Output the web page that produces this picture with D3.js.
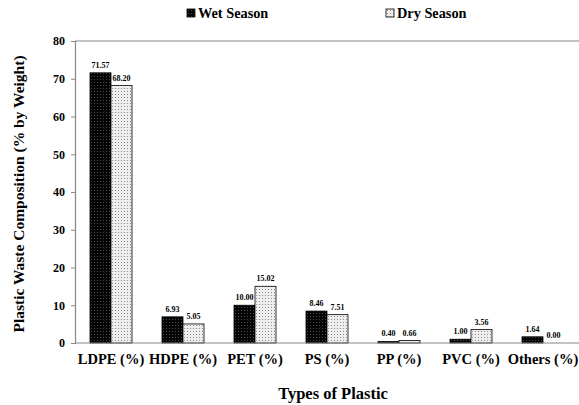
<!DOCTYPE html>
<html>
<head>
<meta charset="utf-8">
<script src="https://cdn.jsdelivr.net/npm/d3@7"></script>
<style>
  html, body { margin: 0; padding: 0; background: #fff; }
  svg text { font-family: "Liberation Serif", "Times New Roman", serif; font-weight: bold; fill: #000; }
</style>
</head>
<body>
<svg id="chart" width="579" height="405"></svg>
<script>
// Plastic waste composition by type, wet vs dry season
const categories = ["LDPE (%)", "HDPE (%)", "PET (%)", "PS (%)", "PP (%)", "PVC (%)", "Others (%)"];
const seriesNames = ["Wet Season", "Dry Season"];
const wetValues = [71.57, 6.93, 10.00, 8.46, 0.40, 1.00, 1.64];
const dryValues = [68.20, 5.05, 15.02, 7.51, 0.66, 3.56, 0.00];
const yTicks = [0, 10, 20, 30, 40, 50, 60, 70, 80];

const svg = d3.select("#chart");
const plotLeft = 75, plotRight = 579, plotTop = 41, plotBottom = 343;

// Fill patterns: dark dotted for wet season, light dotted for dry season
const defs = svg.append("defs");
const pWet = defs.append("pattern").attr("id", "pWet").attr("patternUnits", "userSpaceOnUse")
  .attr("width", 3).attr("height", 3);
pWet.append("rect").attr("width", 3).attr("height", 3).attr("fill", "#050505");
pWet.append("rect").attr("x", 1).attr("y", 1).attr("width", 1).attr("height", 1).attr("fill", "#4a4a4a");
const pDry = defs.append("pattern").attr("id", "pDry").attr("patternUnits", "userSpaceOnUse")
  .attr("width", 3).attr("height", 3);
pDry.append("rect").attr("width", 3).attr("height", 3).attr("fill", "#eeeeee");
pDry.append("rect").attr("x", 1).attr("y", 1).attr("width", 1).attr("height", 1).attr("fill", "#8a8a8a");
const fills = ["url(#pWet)", "url(#pDry)"];

const x = d3.scaleBand().domain(categories).range([plotLeft, plotRight]).paddingInner(0).paddingOuter(0);
const xSub = d3.scaleBand().domain(seriesNames).range([x.bandwidth() / 2 - 21, x.bandwidth() / 2 + 21]);
const y = d3.scaleLinear().domain([0, 80]).range([plotBottom, plotTop]);

// Top border of the plot area
svg.append("line").attr("x1", plotLeft).attr("x2", plotRight).attr("y1", plotTop).attr("y2", plotTop)
  .attr("stroke", "#888").attr("stroke-width", 1.2);

// Y axis
const yAxis = svg.append("g").attr("transform", `translate(${plotLeft},0)`)
  .call(d3.axisLeft(y).tickValues(yTicks).tickSize(4).tickPadding(6).tickFormat(d3.format("d")));
yAxis.select(".domain").attr("stroke", "#888").attr("stroke-width", 1.2);
yAxis.selectAll(".tick line").attr("stroke", "#888");
yAxis.selectAll(".tick text").style("font-size", "12px");

// Bars
const rows = categories.map((c, i) => ({ cat: c, vals: [wetValues[i], dryValues[i]] }));
const groups = svg.append("g").selectAll("g").data(rows).join("g")
  .attr("transform", d => `translate(${x(d.cat)},0)`);
groups.selectAll("rect").data(d => d.vals.map((v, j) => ({ v, s: seriesNames[j], j })))
  .join("rect")
  .attr("x", d => xSub(d.s))
  .attr("width", xSub.bandwidth())
  .attr("y", d => y(d.v))
  .attr("height", d => y(0) - y(d.v))
  .attr("fill", d => fills[d.j])
  .attr("stroke", "#000")
  .attr("stroke-width", d => d.v > 0 ? 0.8 : 0);

// Value labels
groups.selectAll("text").data(d => d.vals.map((v, j) => ({ v, s: seriesNames[j], j })))
  .join("text")
  .attr("x", d => xSub(d.s) + xSub.bandwidth() / 2)
  .attr("y", d => y(d.v) - 5)
  .attr("text-anchor", "middle")
  .style("font-size", "8px")
  .text(d => d3.format(".2f")(d.v));

// X axis line
svg.append("line").attr("x1", plotLeft).attr("x2", plotRight).attr("y1", plotBottom).attr("y2", plotBottom)
  .attr("stroke", "#888").attr("stroke-width", 1.2);

// Category labels
svg.append("g").selectAll("text").data(categories).join("text")
  .attr("x", d => x(d) + x.bandwidth() / 2)
  .attr("y", 364)
  .attr("text-anchor", "middle")
  .style("font-size", "14.5px")
  .text(d => d);

// Axis titles
svg.append("text").attr("x", 333).attr("y", 399).attr("text-anchor", "middle")
  .style("font-size", "16.5px").text("Types of Plastic");
svg.append("text").attr("transform", `translate(24,${(plotTop + plotBottom) / 2 + 2}) rotate(-90)`)
  .attr("text-anchor", "middle").style("font-size", "15.5px").text("Plastic Waste Composition (% by Weight)");

// Legend
const legendX = [187, 386];
const legend = svg.append("g").selectAll("g").data(seriesNames).join("g")
  .attr("transform", (d, i) => `translate(${legendX[i]},9)`);
legend.append("rect").attr("width", 8).attr("height", 8).attr("y", 0)
  .attr("fill", (d, i) => fills[i]).attr("stroke", "#000").attr("stroke-width", 0.8);
legend.append("text").attr("x", 11).attr("y", 9).style("font-size", "14.3px").text(d => d);
</script>
</body>
</html>
